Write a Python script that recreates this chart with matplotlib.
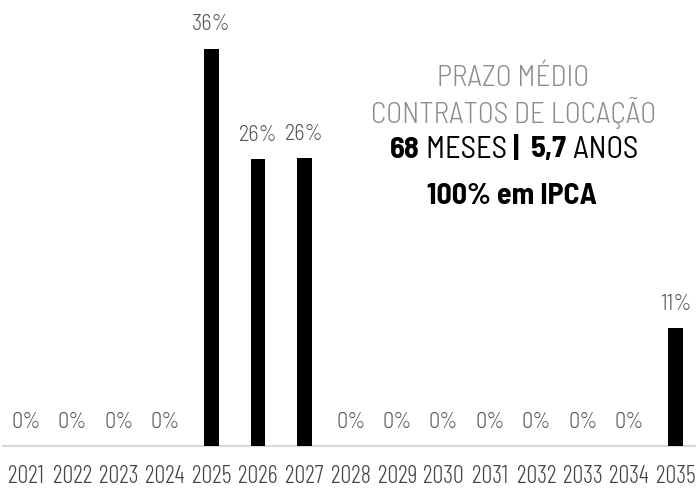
import matplotlib
matplotlib.use('Agg')
import matplotlib.pyplot as plt

plt.rcParams['font.family'] = ['Barlow Semi Condensed', 'DejaVu Sans']

anos = ['2021', '2022', '2023', '2024', '2025', '2026', '2027', '2028',
        '2029', '2030', '2031', '2032', '2033', '2034', '2035']
valores = [0, 0, 0, 0, 36.4, 26.3, 26.4, 0, 0, 0, 0, 0, 0, 0, 10.8]
rotulos = ['0%', '0%', '0%', '0%', '36%', '26%', '26%', '0%',
           '0%', '0%', '0%', '0%', '0%', '0%', '11%']

fig = plt.figure(figsize=(6.96, 4.88), dpi=100)
ax = fig.add_axes([0, 42 / 488, 1, 446 / 488])

x = range(len(anos))
ax.bar(x, valores, width=0.32, color='black', zorder=3)
ax.set_xlim(-0.56, 14.44)
ax.set_ylim(0, 40.86)

for i, (v, r) in enumerate(zip(valores, rotulos)):
    ax.annotate(r, (i, v), xytext=(0, 9.5), textcoords='offset points',
                ha='center', va='bottom', fontsize=16, fontweight=300, color='#555555')

for s in ['top', 'left', 'right']:
    ax.spines[s].set_visible(False)
ax.spines['bottom'].set_color('#d9d9d9')
ax.spines['bottom'].set_linewidth(1.5)
ax.spines['bottom'].set_bounds(-0.5, 14.44)
ax.set_yticks([])
ax.set_xticks(list(x))
ax.set_xticklabels(anos, fontsize=17.5, fontweight=300, color='#444444',
                   family=['Barlow Condensed', 'DejaVu Sans'])
ax.tick_params(axis='x', length=0, pad=14)

# bloco de texto
fig.text(513 / 696, 1 - 79 / 488, 'PRAZO MÉDIO', ha='center', va='center',
         fontsize=21.2, fontweight=300, color='#8c8c8c')
fig.text(514 / 696, 1 - 113 / 488, 'CONTRATOS DE LOCAÇÃO', ha='center', va='center',
         fontsize=21.2, fontweight=300, color='#8c8c8c')

partes = [('68', 'bold'), (' MESES', 'normal'), (' |  ', 'bold'),
          ('5,7', 'bold'), (' ANOS', 'normal')]
fig.canvas.draw()
r = fig.canvas.get_renderer()
textos = []
for t, w in partes:
    textos.append(fig.text(0, 1 - 150 / 488, t, ha='left', va='center',
                           fontsize=22, fontweight=w, color='black'))
larg = [tt.get_window_extent(r).width for tt in textos]
xpos = 514 - sum(larg) / 2
for tt, lw in zip(textos, larg):
    tt.set_x(xpos / 696)
    xpos += lw

fig.text(512 / 696, 1 - 197 / 488, '100% em IPCA', ha='center', va='center',
         fontsize=21.5, fontweight='bold', color='black')

fig.savefig('out.png', dpi=100)
